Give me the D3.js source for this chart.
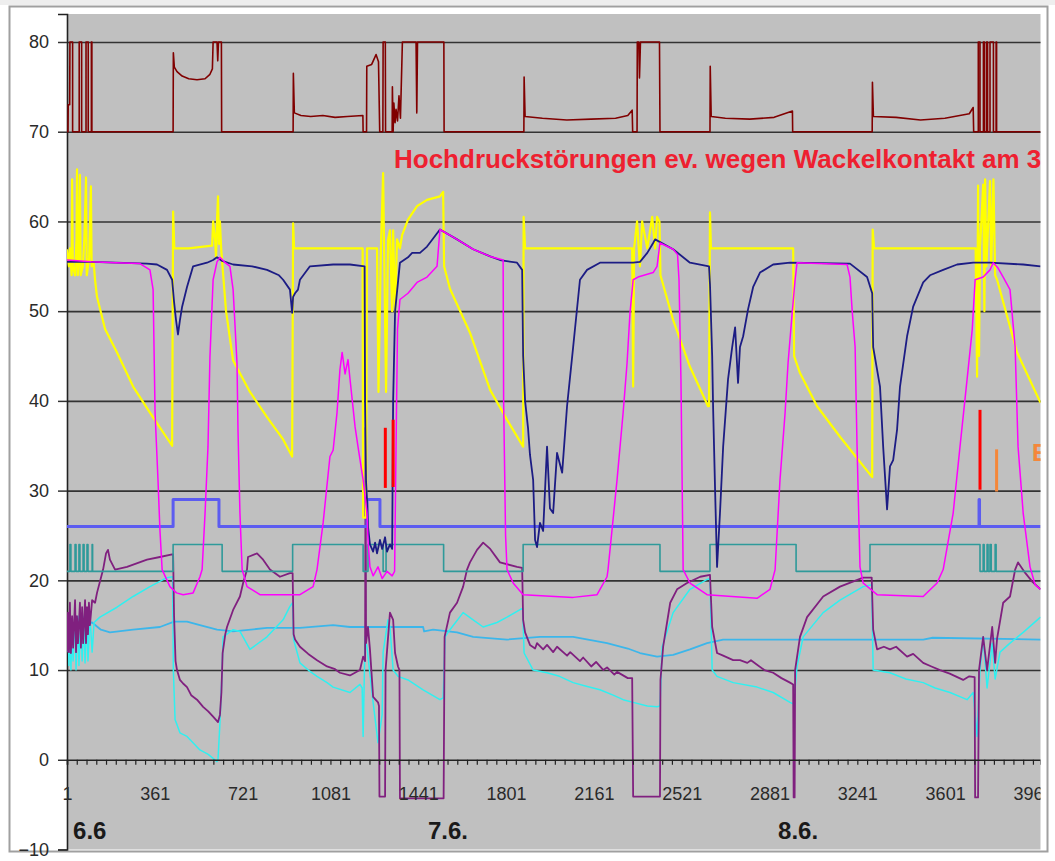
<!DOCTYPE html>
<meta charset="utf-8">
<head>
    <title>Messwerte 6.6 - 8.6.</title>
    <script src="https://cdn.jsdelivr.net/npm/d3@7"></script>
</head>

<style>
    body { margin: 0; background: #fff; }
    svg { display: block; font-family: "Liberation Sans", Arial, sans-serif; }
    .grid line { stroke: #333; stroke-width: 1.6px; }
    .grid path { display: none; }
    .series { fill: none; stroke-linejoin: round; }
</style>
<svg></svg>

<script>
    var vWidth = 1055;
    var vHeight = 861;

    // Axis values
    var vYTicks = [-10, 0, 10, 20, 30, 40, 50, 60, 70, 80];
    var vXLabels = [1, 361, 721, 1081, 1441, 1801, 2161, 2521, 2881, 3241, 3601, 3961];
    var vDayLabels = ['6.6', '7.6.', '8.6.'];
    var vDayAt = [26, 1481, 2916];
    var vNote = 'Hochdruckstörungen ev. wegen Wackelkontakt am 3';
    var vNoteOrange = 'E';

    // Series, [messpunkt, wert]
    var vMaroon = [[1,70],[5,70],[6,73],[12,73],[13,80],[24,80],[24,70],[51,70],[51,80],[61,80],[61,70],[79,70],[79,80],[88,80],[88,70],[101,70],[101,80],[103,80],[103,70],
        [436,70],[437,78.8],[441,77.2],[452,76.7],[473,76.2],[500,75.9],[534,75.8],[567,75.9],[587,76.4],[597,77],[600,80],[616,80],[619,77.9],[622,80],[634,80],[635,70],
        [928,70],[929,76.5],[933,72.1],[960,71.8],[1000,71.7],[1050,71.8],[1100,71.6],[1150,71.7],[1214,71.8],[1215,70],[1229,70],[1230,77.3],[1250,77.5],[1268,78.6],[1278,77.8],[1283,70],[1296,70],[1297,80],[1306,80],[1307,70],[1334,70],[1335,75],[1338,70],[1341,73.2],[1346,71],[1350,72.5],[1356,71.2],[1362,74],[1368,71.5],[1376,80],[1432,80],[1435,72.1],[1438,80],[1546,80],[1547,70],
        [1874,70],[1875,76.1],[1879,71.7],[1950,71.5],[2050,71.3],[2150,71.4],[2250,71.5],[2300,71.8],[2318,72.4],[2320,70],[2338,70],[2339,80],[2345,80],[2348,76],[2352,80],[2430,80],[2432,70],
        [2637,70],[2638,77.3],[2642,71.7],[2700,71.5],[2800,71.4],[2900,71.6],[2975,72.3],[2976,70],
        [3302,70],[3303,75.5],[3307,71.7],[3400,71.6],[3500,71.3],[3600,71.5],[3700,72],[3716,72.7],[3718,70],[3737,70],[3737,80],[3744,80],[3744,70],[3758,70],[3758,80],[3762,80],[3762,70],[3771,70],[3771,80],[3775,80],[3775,70],[3785,70],[3785,80],[3799,80],[3799,70],[3810,70],[3810,80],[3812,80],[3812,70],[3992,70]];

    var vYellow = [[1,56.9],[9,55],[13,57],[20,54],[22,64.7],[25,55],[34,54],[40,58],[42,65.8],[45,54],[50,56],[54,65.2],[57,54],[66,55],[72,58],[79,64.9],[82,54],[92,56],[99,63.9],[102,55],[110,55.5],[116,53.5],[124,51.6],[136,50.3],[157,48],[206,45.4],[272,41.6],[341,38.7],[432,35],
        [436,61.1],[441,57],[500,57],[560,57.2],[596,57.3],[600,60],[608,58],[612,56],[616,60],[620,62.8],[624,57.5],[628,60],[633,57],[637,55.5],[653,50],[682,44.5],[751,41],[821,38.2],[887,35.7],[924,33.8],
        [928,59.8],[932,57],[1000,57],[1100,57],[1200,57],[1213,57],[1215,27],[1227,27],[1231,57],[1272,57],[1278,41],[1288,57],[1297,65.4],[1301,57],[1309,41],[1317,58],[1325,59],[1334,50],[1338,59],[1346,49.8],[1354,58],[1366,57],[1375,58.5],[1399,60.2],[1436,61.7],[1477,62.4],[1530,62.8],[1543,63.3],[1547,55],[1571,52.5],[1653,47.6],[1736,41.2],[1805,37.9],[1871,34.9],
        [1873,60.5],[1879,57],[1950,57],[2050,57],[2150,57],[2250,57],[2318,57],[2322,41.6],[2326,57],[2338,60],[2345,57],[2350,55],[2359,60],[2380,57],[2400,60.5],[2412,57],[2420,60.5],[2430,60],[2434,54],[2486,49],[2555,43.8],[2629,39.4],[2633,39.4],
        [2637,61],[2641,57],[2700,57],[2800,57],[2900,57],[2978,57],[2982,45],[3006,43.1],[3076,39.4],[3170,36],[3302,31.5],
        [3304,59.1],[3310,57],[3400,57],[3500,57],[3600,57],[3700,57],[3726,57],[3732,42.7],[3736,64],[3740,45],[3744,57],[3757,64.1],[3762,50],[3765,64.7],[3770,55],[3785,64.5],[3790,55],[3799,64.7],[3806,54],[3814,53.5],[3896,45.4],[3992,39.8]];

    var vNavy = [[1,55.5],[100,55.5],[200,55.4],[329,55.3],[370,55.2],[411,54.6],[432,53.5],[440,51],[448,49],[456,47.4],[464,49],[473,50.5],[493,52.7],[518,55],[575,55.4],[600,55.7],[616,56],[637,55.6],[682,55.2],[760,55],[821,54.6],[870,54],[887,53.5],[915,52.4],[924,49.8],[928,51.6],[936,52],[948,52.4],[956,53.5],[997,55],[1092,55.2],[1161,55.2],[1221,55],
        [1223,40],[1227,31],[1231,29],[1235,26],[1243,24],[1256,23.2],[1264,24.2],[1272,23],[1284,24.5],[1293,23.5],[1305,24.8],[1313,23.2],[1325,24],[1334,23.5],[1338,40],[1346,50],[1366,55.4],[1399,56],[1416,56.5],[1448,56.5],[1477,57.2],[1530,59.1],[1600,58],[1666,56.9],[1736,56.1],[1776,55.7],[1846,55.4],[1867,54.6],
        [1871,45],[1879,40],[1891,37],[1899,34],[1912,31.2],[1920,24.5],[1928,23.7],[1940,26.4],[1953,25.5],[1969,34.9],[1981,28],[1994,27.5],[2010,34.2],[2031,32],[2051,39.4],[2076,46],[2104,53.5],[2133,54.6],[2186,55.4],[2322,55.4],[2350,55.5],[2380,56.5],[2404,57.6],[2412,58],[2486,56.9],[2555,55.4],[2633,55],
        [2637,53],[2646,45],[2650,39],[2658,30],[2666,21.5],[2678,27.5],[2691,34.9],[2711,42.4],[2728,46],[2740,48.2],[2752,42],[2760,46],[2773,47.2],[2793,50.2],[2814,52.7],[2842,54.3],[2896,55.2],[2965,55.4],[3211,55.3],[3281,53.8],[3302,52],
        [3306,46],[3334,41.6],[3347,34.9],[3363,27.9],[3375,32.7],[3388,33.4],[3404,36.8],[3416,41.6],[3445,47.2],[3470,50.5],[3511,53.2],[3539,54],[3593,54.6],[3650,55.2],[3716,55.4],[3785,55.4],[3921,55.2],[3992,55]];

    var vMagenta = [[1,55.7],[100,55.5],[200,55.4],[300,55.3],[341,54.6],[354,52.4],[362,38.7],[374,31.2],[382,25.6],[391,21.2],[423,19.3],[450,18.6],[477,18.4],[518,18.6],[546,20.4],[555,21.2],[567,27.5],[579,34.9],[587,44.9],[600,53.5],[616,55.5],[628,56],[650,55.4],[669,55],[682,52.4],[698,44.2],[702,36.8],[710,27.5],[719,21.2],[739,19.3],[792,18.4],[956,18.4],[1010,19.3],[1026,21.2],[1051,26.4],[1079,33.8],[1092,34.5],[1108,38.7],[1120,43.5],[1129,45.4],[1141,43],[1153,44.6],[1161,42.5],[1182,37.1],[1194,34.9],[1215,31.2],[1231,27.5],[1235,24.5],[1243,21.5],[1256,20.5],[1276,21.5],[1293,20.2],[1313,21],[1334,20.5],[1344,21],[1350,35],[1356,48],[1366,51.3],[1399,52],[1436,53.2],[1477,53.8],[1518,55],[1530,59.1],[1600,58],[1666,56.9],[1736,56.1],[1789,55.7],
        [1791,40],[1799,25],[1805,21.2],[1830,19.7],[1871,18.4],[2076,18.1],[2174,18.4],[2215,20.4],[2219,21.2],[2256,31.2],[2281,38.7],[2297,44.2],[2309,49.8],[2322,53.5],[2342,53.8],[2404,54.3],[2420,55],[2432,57.6],[2486,56.9],[2504,56.3],
        [2510,53.5],[2518,42.4],[2527,21.2],[2555,19.7],[2625,18.4],[2830,18],[2883,19],[2904,21.2],[2924,31.2],[2945,38.7],[2957,44.2],[2974,49.8],[2986,53.5],[2994,55.4],[3199,55.2],[3211,53.8],[3220,50],[3232,46],[3240,34.9],[3252,21.5],[3265,19.7],[3322,18.4],[3511,18.2],[3568,19.7],[3593,21.2],[3634,27.5],[3662,34.9],[3691,42.4],[3712,47.9],[3724,53.5],[3757,53.8],[3785,54.6],[3798,55.4],[3818,54.8],[3839,53.8],[3867,52.4],[3888,46],[3900,34.9],[3921,27.5],[3949,21.5],[3970,19.5],[3992,19]];

    var vBlue = [[1,26],[436,26],[436,29],[624,29],[624,26],[1231,26],[1231,29],[1284,29],[1284,26],[3740,26],[3740,29],[3742,29],[3742,26],[3992,26]];

    var vTeal = [[1,21],[13,21],[13,24],[17,24],[17,21],[34,21],[34,24],[38,24],[38,21],[50,21],[50,24],[54,24],[54,21],[67,21],[67,24],[71,24],[71,21],[83,21],[83,24],[87,24],[87,21],[104,21],[104,24],[106,24],[106,21],
        [436,21],[436,24],[637,24],[637,21],[926,21],[926,24],[1215,24],[1215,21],[1235,21],[1235,24],[1297,24],[1297,21],[1309,21],[1309,24],[1545,24],[1545,21],[1871,21],[1871,24],[2432,24],[2432,21],[2637,21],[2637,24],[2990,24],[2990,21],[3293,21],[3293,24],[3744,24],[3744,21],[3757,21],[3757,24],[3761,24],[3761,21],[3773,21],[3773,24],[3777,24],[3777,21],[3785,21],[3785,24],[3790,24],[3790,21],[3806,21],[3806,24],[3810,24],[3810,21],[3992,21]];

    var vPurple = [[1,12],[5,16.4],[9,12],[13,17.5],[17,11.9],[22,16],[26,12.5],[34,17.8],[38,12],[42,16],[46,13],[54,17.5],[58,12.5],[63,17],[67,13],[75,17.8],[79,13],[83,17],[87,14],[91,17.5],[95,15],[104,17.8],[116,17.5],[124,18.6],[149,21.2],[161,23],[169,23.4],[177,22.3],[198,21.2],[247,21.5],[329,22.3],[382,22.6],[432,22.9],[436,22.9],
        [440,16],[446,11],[452,10],[464,8.9],[477,8.5],[493,8.1],[510,7.2],[534,6.7],[559,5.9],[580,5.4],[600,4.8],[620,4.2],[628,5],[634,7.5],[639,11.9],[650,14],[657,14.8],[682,16.7],[710,18.2],[723,19.7],[739,21.2],[743,22.6],[780,23],[805,22.3],[833,21.2],[874,20.4],[915,20.8],[926,20.8],
        [930,14],[936,13.4],[956,12.6],[990,11.8],[1026,11.1],[1067,10.4],[1100,10.1],[1120,9.7],[1161,9.4],[1202,10],[1215,11.5],[1223,11],[1225,37],[1227,13],[1235,14.8],[1243,12.3],[1256,7],[1276,6.4],[1280,6],[1282,-4.1],[1305,-4.1],[1307,10],[1325,16.4],[1338,15.6],[1346,11.9],[1358,10.4],[1364,10],[1366,-4.3],[1545,-4.3],[1549,13.7],[1571,16.4],[1600,17.5],[1625,19.3],[1641,21.2],[1653,22],[1682,23.4],[1707,24.2],[1736,23.5],[1776,22],[1846,21.5],[1867,21.4],
        [1871,15.6],[1879,14.2],[1899,12.8],[1920,12.4],[1928,13],[1953,12.3],[1969,12.8],[1994,12],[2010,12.6],[2051,11.6],[2064,12],[2104,11],[2117,11.4],[2150,10.4],[2170,10.9],[2200,10],[2215,10.3],[2245,9.5],[2256,9.8],[2300,9.1],[2318,9.1],
        [2322,-4.1],[2432,-4.1],[2434,8.9],[2445,12.6],[2474,17.5],[2502,19],[2543,19.7],[2597,20.4],[2637,20.6],
        [2646,14.8],[2666,11.9],[2691,11.6],[2732,11.1],[2760,11.1],[2790,10.8],[2805,11.1],[2830,10.6],[2860,10],[2896,9.7],[2930,9.1],[2965,8.6],[2978,8.4],
        [2980,-4.2],[2984,-4.2],[2986,10],[3006,13.7],[3035,15.9],[3101,18.2],[3170,19.3],[3265,20.3],[3300,20.3],
        [3306,14.5],[3322,12.3],[3350,12.6],[3375,12.3],[3400,12.6],[3445,11.5],[3470,11.8],[3511,10.8],[3545,10.4],[3580,10],[3620,9.6],[3675,8.9],[3700,9.3],[3722,9.2],
        [3724,-4.2],[3736,-4.2],[3740,10],[3757,13.7],[3773,10],[3794,14.8],[3806,10.8],[3814,13.5],[3839,17.5],[3867,18.2],[3888,21.2],[3900,22],[3930,20.8],[3960,19.8],[3992,19]];

    var vCyan = [[1,12],[5,16],[9,10.5],[13,16.7],[17,10],[22,15],[26,11],[34,16.5],[38,10],[46,16],[50,10.5],[58,16.2],[63,11],[71,16],[75,10.8],[83,16.4],[87,11],[95,16],[104,12],[112,15.3],[136,15.9],[206,17],[272,18.2],[341,19.3],[411,20.3],[434,20.4],
        [437,10],[444,4.5],[464,3],[493,2.6],[546,1.1],[580,0.6],[616,-0.2],[620,0],[628,4.1],[637,10],[641,13.7],[682,14.5],[710,14.3],[751,12.3],[821,13.7],[887,15.6],[915,17.1],[926,17.5],
        [930,13.4],[956,10.8],[990,10],[1026,9.3],[1067,8.6],[1092,8.1],[1161,7.5],[1202,8.4],[1211,8],[1215,2.6],[1223,13.7],[1231,12.5],[1256,6.4],[1276,1.9],[1293,5],[1297,12],[1317,15.6],[1325,14.8],[1338,10],[1358,9.3],[1399,8.9],[1461,7.8],[1530,6.7],[1543,6.9],
        [1551,13.7],[1571,14.5],[1625,16.4],[1666,15.6],[1707,14.8],[1764,15.3],[1805,15.9],[1869,16.9],
        [1875,11.9],[1912,10],[1969,9.7],[2020,9.3],[2076,8.6],[2130,8.2],[2186,7.8],[2240,7.2],[2281,6.7],[2322,6.4],[2380,6],[2420,5.9],[2432,6],
        [2441,12.6],[2486,16.4],[2555,19],[2625,20.1],[2637,20.2],
        [2646,10],[2666,9.3],[2732,8.6],[2830,8.1],[2896,7.5],[2965,6.4],[2980,6.2],
        [2994,10.4],[3019,13.7],[3101,16.4],[3170,17.8],[3265,19.3],[3300,19.5],
        [3306,10],[3375,9.7],[3440,9],[3511,8.6],[3560,8],[3621,7.5],[3691,6.7],[3716,7.5],[3732,2.6],[3744,10],[3757,13.7],[3773,8],[3794,13],[3806,9],[3826,12],[3867,13],[3921,14.2],[3992,15.9]];

    var vSky = [[1,14.8],[50,15],[104,15.3],[140,14.5],[177,14.2],[272,14.5],[382,14.8],[440,15.4],[493,15.4],[546,15],[616,14.5],[682,14.3],[821,14.7],[956,14.7],[1092,15],[1161,14.8],[1300,14.8],[1461,14.8],[1465,14.3],[1502,14.5],[1600,14.2],[1666,13.7],[1805,13.4],[1940,13.7],[2076,13.7],[2215,13],[2300,12.4],[2350,11.9],[2420,11.5],[2486,11.7],[2555,12.3],[2625,13],[2691,13.4],[2965,13.4],[3511,13.4],[3550,13.6],[3992,13.4]];

    // bars: [messpunkt, von, bis]
    var vRedBars = [[1306, 30.3, 37], [1338, 30.4, 37.9], [3744, 30.1, 39]];
    var vOrangeBars = [[3812, 29.9, 34.6]];

    // Prepare our physical space
    var svg = d3.select('svg').attr('width', vWidth).attr('height', vHeight);
    var vLeft = 67, vRight = 1040.5, vTop = 14, vBottom = 849.5;

    var x = d3.scaleLinear().domain([1, 3992]).range([vLeft, vRight]);
    var y = d3.scaleLinear().domain([-10, 83.12]).range([vBottom, vTop]);

    // frame
    svg.append('rect').attr('x', 0).attr('y', 0).attr('width', vWidth).attr('height', 5).attr('fill', '#eeeeee');
    svg.append('rect').attr('x', 9.5).attr('y', 6.5).attr('width', 1038).attr('height', 845)
        .attr('fill', '#fff').attr('stroke', '#a0a0a0').attr('stroke-width', 2);
    svg.append('rect').attr('x', vLeft).attr('y', vTop).attr('width', vRight - vLeft).attr('height', vBottom - vTop)
        .attr('fill', '#c0c0c0');

    svg.append('clipPath').attr('id', 'plot').append('rect')
        .attr('x', vLeft).attr('y', vTop).attr('width', vRight - vLeft).attr('height', vBottom - vTop);
    svg.append('clipPath').attr('id', 'xlab').append('rect')
        .attr('x', 0).attr('y', 0).attr('width', vRight).attr('height', vHeight);

    // grid
    svg.append('g').attr('class', 'grid').attr('transform', 'translate(' + vLeft + ',0)')
        .call(d3.axisLeft(y).tickValues(vYTicks.filter(function (d) { return d > 0; }))
            .tickSize(-(vRight - vLeft)).tickFormat(''));

    // y axis
    var gy = svg.append('g').attr('transform', 'translate(' + vLeft + ',0)')
        .call(d3.axisLeft(y).tickValues(vYTicks).tickSize(9).tickPadding(9).tickFormat(d3.format('d')));
    gy.select('.domain').attr('stroke', '#222').attr('stroke-width', 1.6);
    gy.selectAll('.tick line').attr('stroke', '#333').attr('stroke-width', 1.5);
    gy.selectAll('text').attr('font-size', 18).attr('fill', '#2a2a2a');

    // lines
    var line = d3.line().x(function (d) { return x(d[0]); }).y(function (d) { return y(d[1]); });
    var gLines = svg.append('g').attr('clip-path', 'url(#plot)');

    var vSeries = [
        { data: vSky, color: '#3cb6ea', w: 1.8 },
        { data: vCyan, color: '#2ff0f0', w: 1.5 },
        { data: vPurple, color: '#80207f', w: 1.8 },
        { data: vTeal, color: '#2f9a9a', w: 1.6 },
        { data: vBlue, color: '#5c5cf0', w: 3 },
        { data: vMaroon, color: '#800000', w: 1.6 },
        { data: vYellow, color: '#ffff00', w: 2.2 },
        { data: vNavy, color: '#1c1c84', w: 1.8 },
        { data: vMagenta, color: '#ff00ff', w: 1.5 }
    ];
    gLines.selectAll('path.series').data(vSeries).enter().append('path')
        .attr('class', 'series')
        .attr('d', function (d) { return line(d.data); })
        .attr('stroke', function (d) { return d.color; })
        .attr('stroke-width', function (d) { return d.w; });

    gLines.selectAll('line.red').data(vRedBars).enter().append('line').attr('class', 'red')
        .attr('x1', function (d) { return x(d[0]); }).attr('x2', function (d) { return x(d[0]); })
        .attr('y1', function (d) { return y(d[1]); }).attr('y2', function (d) { return y(d[2]); })
        .attr('stroke', '#ff0000').attr('stroke-width', 3);
    gLines.selectAll('line.orange').data(vOrangeBars).enter().append('line').attr('class', 'orange')
        .attr('x1', function (d) { return x(d[0]); }).attr('x2', function (d) { return x(d[0]); })
        .attr('y1', function (d) { return y(d[1]); }).attr('y2', function (d) { return y(d[2]); })
        .attr('stroke', '#f5873a').attr('stroke-width', 3);

    // notes
    gLines.append('text').attr('x', 394).attr('y', 168).attr('font-size', 26).attr('font-weight', 'bold')
        .attr('fill', '#ee2030').text(vNote);
    gLines.append('text').attr('x', 1032).attr('y', 461).attr('font-size', 24).attr('font-weight', 'bold')
        .attr('fill', '#f5873a').text(vNoteOrange);

    // x axis at 0
    var gx = svg.append('g').attr('clip-path', 'url(#xlab)')
        .append('g').attr('transform', 'translate(0,' + y(0) + ')')
        .call(d3.axisBottom(x).tickValues(d3.range(1, 3992, 40)).tickSize(5)
            .tickFormat(function (d) { return vXLabels.indexOf(d) >= 0 ? d : ''; }));
    gx.select('.domain').attr('stroke', '#222').attr('stroke-width', 1.6);
    gx.selectAll('.tick line').attr('stroke', '#222').attr('stroke-width', 1.2);
    gx.selectAll('text').attr('font-size', 18).attr('fill', '#2a2a2a').attr('y', 27);

    // day labels
    svg.selectAll('text.day').data(vDayLabels).enter().append('text').attr('class', 'day')
        .attr('x', function (d, i) { return x(vDayAt[i]); }).attr('y', 839)
        .attr('font-size', 24).attr('font-weight', 'bold').attr('fill', '#1a1a1a')
        .text(function (d) { return d; });
</script>
